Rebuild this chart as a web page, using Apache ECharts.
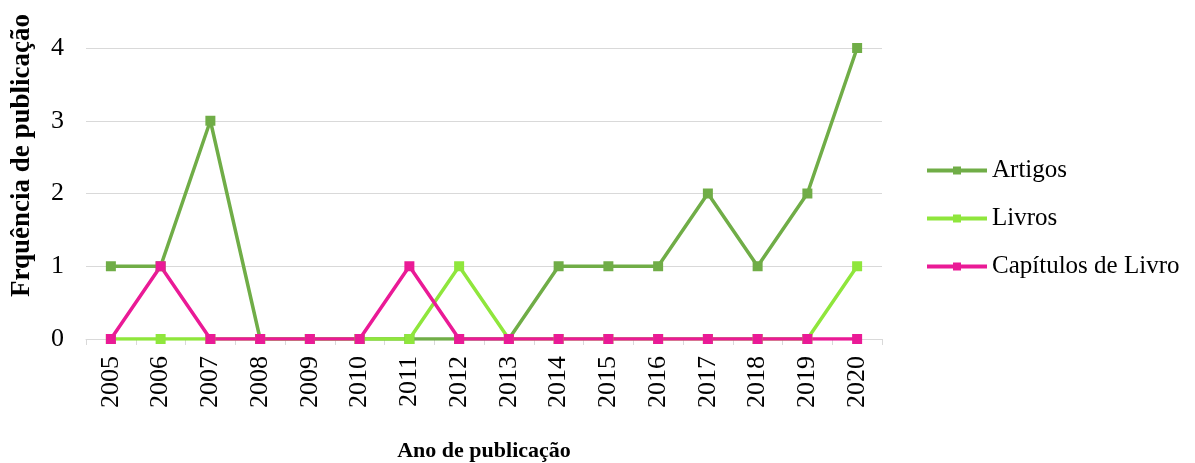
<!DOCTYPE html>
<html>
<head>
<meta charset="utf-8">
<script src="https://cdn.jsdelivr.net/npm/echarts@6/dist/echarts.min.js"></script>
<style>
  html, body { margin: 0; padding: 0; background: #fff; }
  #main { width: 1195px; height: 463px; }
</style>
</head>
<body>
<div id="main"></div>
<script>
// dados
var anos = ['2005','2006','2007','2008','2009','2010','2011','2012','2013','2014','2015','2016','2017','2018','2019','2020'];
var artigos   = [1, 1, 3, 0, 0, 0, 0, 0, 0, 1, 1, 1, 2, 1, 2, 4];
var livros    = [0, 0, 0, 0, 0, 0, 0, 1, 0, 0, 0, 0, 0, 0, 0, 1];
var capitulos = [0, 1, 0, 0, 0, 0, 1, 0, 0, 0, 0, 0, 0, 0, 0, 0];

var fonte = '"Liberation Serif", "Times New Roman", serif';

var myChart = echarts.init(document.getElementById('main'));

function serie(nome, dados, cor) {
  return {
    name: nome,
    type: 'line',
    data: dados,
    symbol: 'rect',
    symbolSize: 10,
    lineStyle: { width: 3.5, color: cor },
    itemStyle: { color: cor },
    animation: false
  };
}

var option = {
  textStyle: { fontFamily: fonte },
  grid: { left: 86, right: 313, top: 48, bottom: 124, outerBoundsMode: 'none', containLabel: false },
  legend: {
    orient: 'vertical',
    left: 920,
    top: 153,
    itemWidth: 60,
    itemHeight: 10,
    itemGap: 23,
    lineStyle: { width: 4 },
    textStyle: { fontFamily: fonte, fontSize: 25, color: '#000' },
    data: ['Artigos', 'Livros', 'Capítulos de Livro']
  },
  xAxis: {
    type: 'category',
    data: anos,
    boundaryGap: true,
    name: 'Ano de publicação',
    nameLocation: 'middle',
    nameGap: 101,
    nameTextStyle: { fontFamily: fonte, fontSize: 22, fontWeight: 'bold', color: '#000' },
    axisLine: { lineStyle: { color: '#d9d9d9', width: 1 } },
    axisTick: { show: true, length: 6, lineStyle: { color: '#d9d9d9' } },
    axisLabel: { rotate: 90, margin: 17, fontFamily: fonte, fontSize: 26, color: '#000' }
  },
  yAxis: {
    type: 'value',
    min: 0,
    max: 4,
    interval: 1,
    axisLine: { show: false },
    axisTick: { show: false },
    axisLabel: { margin: 22, fontFamily: fonte, fontSize: 26, color: '#000' },
    splitLine: { lineStyle: { color: '#d9d9d9', width: 1 } }
  },
  graphic: [{
    type: 'text',
    left: 9,
    top: 14,
    rotation: Math.PI / 2,
    style: {
      text: 'Frquência de publicação',
      font: 'bold 27px ' + fonte,
      fill: '#000'
    }
  }],
  series: [
    serie('Artigos', artigos, '#70ad47'),
    serie('Livros', livros, '#8fe63c'),
    serie('Capítulos de Livro', capitulos, '#ea1a96')
  ]
};

myChart.setOption(option);
</script>
</body>
</html>
